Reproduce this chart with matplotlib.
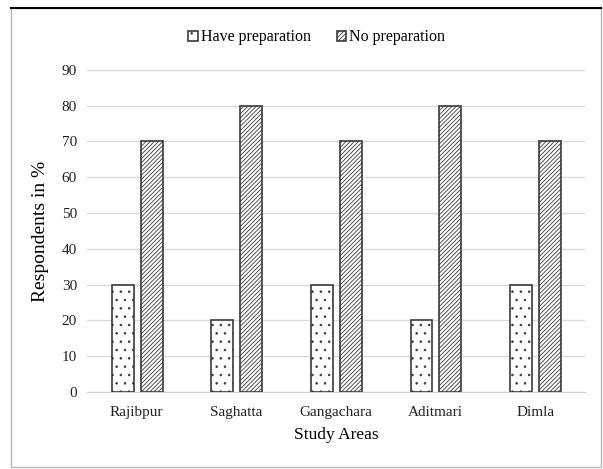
import matplotlib
matplotlib.use('Agg')
import matplotlib.pyplot as plt
import numpy as np
from matplotlib.patches import Rectangle
from matplotlib.lines import Line2D

areas = ['Rajibpur', 'Saghatta', 'Gangachara', 'Aditmari', 'Dimla']
have_prep = [30, 20, 30, 20, 30]
no_prep = [70, 80, 70, 80, 70]

plt.rcParams['font.family'] = ['Liberation Serif', 'DejaVu Serif']
plt.rcParams['hatch.linewidth'] = 0.6
plt.rcParams['hatch.color'] = '#5a5a5a'

fig = plt.figure(figsize=(6.03, 4.69), dpi=100)
ax = fig.add_axes([0.144, 0.164, 0.826, 0.687])

x = np.arange(len(areas))
w = 0.22
ax.bar(x - 0.14, have_prep, w, color='white', edgecolor='#3a3a3a', lw=1.2,
       hatch='..', label='Have preparation', zorder=3)
ax.bar(x + 0.15, no_prep, w, color='white', edgecolor='#3a3a3a', lw=1.2,
       hatch='////////', label='No preparation', zorder=3)

ax.set_xlim(-0.5, len(areas) - 0.5)
ax.set_ylim(0, 90)
ax.set_yticks(range(0, 91, 10))
ax.set_xticks(x)
ax.set_xticklabels(areas)
ax.tick_params(length=0, labelsize=11, colors='#222222')
ax.tick_params(axis='y', pad=7)
ax.tick_params(axis='x', pad=10)
ax.yaxis.grid(True, color='#d9d9d9', lw=1)
ax.set_axisbelow(True)
for s in ['top', 'right', 'left']:
    ax.spines[s].set_visible(False)
ax.spines['bottom'].set_color('#d0d0d0')

ax.set_ylabel('Respondents in %', fontsize=14, labelpad=9)
ax.set_xlabel('Study Areas', fontsize=12.5, labelpad=6)

leg = ax.legend(loc='upper center', bbox_to_anchor=(0.462, 1.17), ncol=2, frameon=False,
                fontsize=11.5, handlelength=0.6, handleheight=0.6, handletextpad=0.2,
                columnspacing=1.6)

# outer frame
fig.patches.append(Rectangle((0.018, 0.004), 0.978, 0.979, transform=fig.transFigure,
                             fill=False, edgecolor='#b8b8b8', lw=1))
fig.lines.append(Line2D([0.018, 0.996], [0.983, 0.983], transform=fig.transFigure,
                       color='black', lw=1.5))

fig.savefig('out.png', dpi=100)
